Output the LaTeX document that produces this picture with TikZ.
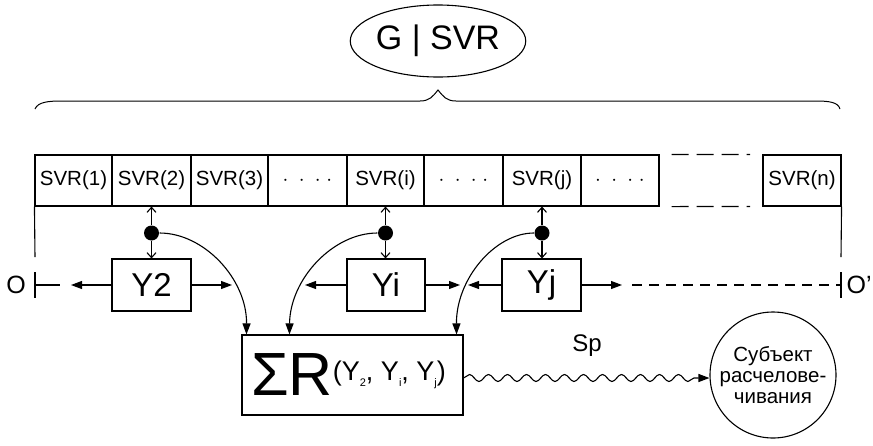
\documentclass[tikz,border=0pt]{standalone}
\usepackage{fontspec}
\setmainfont{Liberation Sans}
\usetikzlibrary{arrows.meta,decorations.pathmorphing,shapes.geometric}
\begin{document}
\begin{tikzpicture}[x=1pt,y=-1pt, line width=1.1pt,
  cell/.style={draw, minimum height=51pt, inner sep=0pt, font=\fontsize{20.5}{20.5}\selectfont},
  ybox/.style={draw, minimum height=52pt, inner sep=0pt, font=\fontsize{33}{33}\selectfont},
  dot/.style={circle, fill, inner sep=0pt, minimum size=15pt},
  tri/.style={-{Triangle[length=11pt,width=8pt]}},
  barb/.style={-{Straight Barb[length=5pt,width=9pt]}},
  lbl/.style={font=\fontsize{25}{25}\selectfont, inner sep=0pt},
  dashline/.style={dash pattern=on 10pt off 7pt},
  topdash/.style={dash pattern=on 17pt off 8pt},
]
\useasboundingbox (0,0) rectangle (873,445);
% title
\node[ellipse, draw, minimum width=150pt, minimum height=72pt, inner sep=0pt,
      font=\fontsize{34}{34}\selectfont] (g) at (438,41) {G | SVR};
% brace
\draw[line width=1pt] (35,109) .. controls (38,102) and (48,101) .. (62,101) -- (420,101)
  .. controls (430,101) and (433,96) .. (438,90)
  .. controls (443,96) and (446,101) .. (456,101) -- (815,101)
  .. controls (829,101) and (838,102) .. (840,109);
% SVR cells
\node[cell, minimum width=77pt] (s1) at (73.5,180.5) {SVR(1)};
\node[cell, minimum width=79pt] (s2) at (151.5,180.5) {SVR(2)};
\node[cell, minimum width=77pt] (s3) at (229.5,180.5) {SVR(3)};
\node[cell, minimum width=79pt] (s4) at (307.5,180.5) {$\cdot\;\cdot\;\cdot\;\cdot$};
\node[cell, minimum width=77pt] (si) at (385.5,180.5) {SVR(i)};
\node[cell, minimum width=79pt] (s6) at (463.5,180.5) {$\cdot\;\cdot\;\cdot\;\cdot$};
\node[cell, minimum width=78pt] (sj) at (542,180.5) {SVR(j)};
\node[cell, minimum width=78pt] (s8) at (620,180.5) {$\cdot\;\cdot\;\cdot\;\cdot$};
\node[cell, minimum width=78pt] (sn) at (802,180.5) {SVR(n)};
\draw[topdash] (s8.north east) ++(12,0) -- (750,154.5);
\draw[topdash] (s8.south east) ++(12,0) -- (750,206.5);
% side lines
\coordinate (lb) at (35,257);
\coordinate (rb) at (841,257);
\draw (s1.south west) -- (lb);
\draw (sn.south east) -- (rb);
% O ends
\coordinate (ot) at (35,272);
\coordinate (ob) at (35,298);
\coordinate (oe) at (60,285);
\draw (ot) -- (ob);
\draw (35,285) -- (oe);
\node[lbl] (o) at (16,285) {O};
\coordinate (pt) at (841,272);
\coordinate (pb) at (841,298);
\draw (pt) -- (pb);
\node[lbl, anchor=west] (op) at (846,285) {O'};
% Y boxes
\node[ybox, minimum width=79pt] (y2) at (151.5,285) {Y2};
\node[ybox, minimum width=78pt] (yi) at (386,285) {Yi};
\node[ybox, minimum width=79pt] (yj) at (541.5,285) {Yj};
% dots
\node[dot] (d2) at (151.5,233) {};
\node[dot] (di) at (385.5,233) {};
\node[dot] (dj) at (542,233) {};
\draw[barb] (d2) -- (s2.south);
\draw[barb] (d2) -- (d2 |- y2.north);
\draw[barb] (di) -- (si.south);
\draw[barb] (di) -- (di |- yi.north);
\draw[barb] (dj) -- (sj.south);
\draw[barb] (dj) -- (dj |- yj.north);
% horizontal arrows
\coordinate (a1) at (71,285);
\coordinate (a2) at (232,285);
\coordinate (a3) at (305,285);
\coordinate (a4) at (460,285);
\coordinate (a5) at (468,285);
\coordinate (a6) at (622,285);
\coordinate (dstart) at (632,285);
\draw[tri] (y2.west) -- (a1);
\draw[tri] (y2.east) -- (a2);
\draw[tri] (yi.west) -- (a3);
\draw[tri] (yi.east) -- (a4);
\draw[tri] (yj.west) -- (a5);
\draw[tri] (yj.east) -- (a6);
\draw[dashline] (dstart) -- (841,285);
% sum box
\node[draw, minimum width=221pt, minimum height=80pt, inner sep=0pt] (sig) at (352.5,375)
  {\hspace*{-8pt}{\fontsize{61}{61}\selectfont ΣR}\raisebox{15pt}{\fontsize{27}{27}\selectfont (Y\raisebox{-0.2em}{\fontsize{11}{11}\selectfont 2}, Y\raisebox{-0.2em}{\fontsize{11}{11}\selectfont i}, Y\raisebox{-0.2em}{\fontsize{11}{11}\selectfont j})}};
% curves into sum
\draw[tri] (d2) .. controls (204,233) and (247,279) .. ([xshift=5pt]sig.north west);
\draw[tri] (di) .. controls (333,233) and (290,279) .. ([xshift=48pt]sig.north west);
\draw[tri] (dj) .. controls (495,233) and (456,279) .. ([xshift=-7pt]sig.north east);
% subject
\node[circle, draw, minimum size=126pt, inner sep=0pt, align=center,
      font=\fontsize{20.5}{21}\selectfont] (subj) at (773,375) {Субъект\\расчелове-\\чивания};
\draw[tri, decorate, decoration={snake, amplitude=3.5pt, segment length=19pt, post length=9pt}]
  ([yshift=-3pt]sig.east) -- ([yshift=-3pt]subj.west);
\node[font=\fontsize{24}{24}\selectfont, inner sep=0pt] (sp) at (587,346) {Sp};
\end{tikzpicture}
\end{document}
